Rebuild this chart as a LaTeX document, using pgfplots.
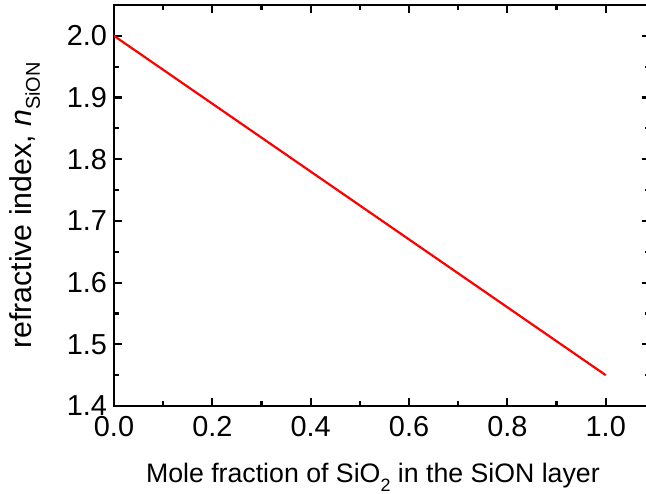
\documentclass[border=0pt]{standalone}
\usepackage{fontspec}
\setmainfont{Liberation Sans}
\usepackage{pgfplots}
\pgfplotsset{compat=1.18}
\begin{document}
\begin{tikzpicture}
\begin{axis}[
  at={(57bp,44bp)}, anchor=south west,
  scale only axis, width=268bp, height=200.5bp,
  xmin=0, xmax=1.09, ymin=1.4, ymax=2.05,
  xtick={0,0.2,...,1.0}, ytick={1.4,1.5,...,2.0},
  minor x tick num=1, minor y tick num=1,
  tick align=inside,
  major tick length=4bp, minor tick length=2.5bp,
  every tick/.style={black, line width=1.1pt},
  axis line style={line width=1.2pt},
  xticklabel style={yshift=-1.5bp, /pgf/number format/.cd, fixed, fixed zerofill, precision=1},
  yticklabel style={/pgf/number format/.cd, fixed, fixed zerofill, precision=1},
  /pgf/number format/assume math mode=true,
  tick label style={font=\fontsize{14.5}{17}\selectfont},
  xlabel={Mole fraction of SiO\raisebox{-0.65ex}{\fontsize{9}{10}\selectfont 2} in the SiON layer},
  ylabel={refractive index, \textit{n}\raisebox{-0.5ex}{\fontsize{10}{10}\selectfont SiON}},
  x label style={font=\fontsize{13.4}{15}\selectfont, at={(axis description cs:0.483,0)}, anchor=north, yshift=-25bp},
  y label style={font=\fontsize{15.2}{17}\selectfont, at={(axis description cs:-0.125,0.5)}, anchor=south},
]
\addplot[red, line width=1.1pt] coordinates {(0,2.0) (1.0,1.45)};
\end{axis}
\pgfresetboundingbox
\useasboundingbox (0,0) rectangle (323bp,247bp);
\end{tikzpicture}
\end{document}
